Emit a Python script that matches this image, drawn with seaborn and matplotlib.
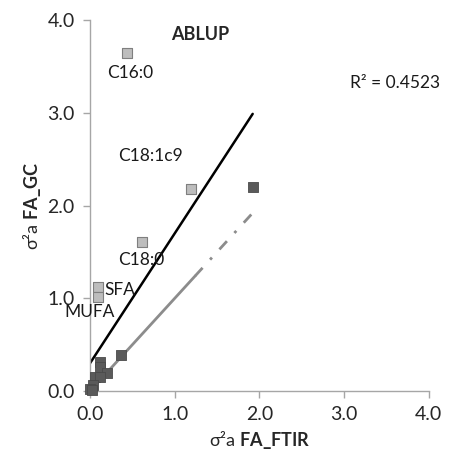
import seaborn as sns
import matplotlib.pyplot as plt
import numpy as np
import pandas as pd

# light squares: GC vs FTIR (labelled traits)
gc_names = ["C16:0", "C18:1c9", "C18:0", "SFA", "MUFA"]
gc_x = [0.44, 1.19, 0.61, 0.10, 0.10]
gc_y = [3.64, 2.18, 1.61, 1.12, 1.01]

# dark squares
ft_x = [1.92, 0.37, 0.12, 0.12, 0.20, 0.06, 0.12, 0.04, 0.00, 0.02]
ft_y = [2.20, 0.39, 0.31, 0.26, 0.19, 0.15, 0.15, 0.07, 0.02, 0.01]

# trend lines (intercept, slope)
black_fit = (0.30, 1.40)
gray_fit = (0.00, 1.00)
fit_range = [0.0, 1.92]
gray_solid_end = 1.24

label_xy = {"C16:0": (0.47, 3.43), "C18:1c9": (0.71, 2.53), "C18:0": (0.60, 1.41),
            "SFA": (0.35, 1.09), "MUFA": (0.00, 0.85)}

sns.set_style("white")
plt.rcParams['font.family'] = ['Lato', 'DejaVu Sans']
plt.rcParams['mathtext.fontset'] = 'custom'
plt.rcParams['mathtext.rm'] = 'Lato'
plt.rcParams['mathtext.bf'] = 'Lato:bold'

fig = plt.figure(figsize=(4.51, 4.65), dpi=100)
ax = fig.add_axes([0.1996, 0.159, 0.7514, 0.798])

xs = np.array(fit_range)
line_df = pd.DataFrame({"x": xs, "y": black_fit[0] + black_fit[1] * xs})
sns.lineplot(data=line_df, x="x", y="y", color="black", lw=1.8, ax=ax)

xs1 = np.array([fit_range[0], gray_solid_end])
xs2 = np.array([gray_solid_end, fit_range[1]])
sns.lineplot(x=xs1, y=gray_fit[0] + gray_fit[1] * xs1, color="#8c8c8c", lw=2, ax=ax)
l2 = ax.plot(xs2, gray_fit[0] + gray_fit[1] * xs2, color="#8c8c8c", lw=2)[0]
l2.set_dashes([4, 4, 1, 4])

sns.scatterplot(x=ft_x, y=ft_y, marker="s", s=60, color="#5a5a5a",
                edgecolor="#4a4a4a", linewidth=0.6, ax=ax, zorder=3)
sns.scatterplot(x=gc_x, y=gc_y, marker="s", s=55, color="#bdbdbd",
                edgecolor="#7f7f7f", linewidth=0.8, ax=ax, zorder=3)

for name in gc_names:
    lx, ly = label_xy[name]
    ax.text(lx, ly, name, fontsize=12.5, ha="center", va="center", color="#1a1a1a")

ax.text(1.3, 3.84, "ABLUP", fontsize=13, fontweight="bold", ha="center", va="center")
ax.text(3.07, 3.32, "R² = 0.4523", fontsize=12.5, ha="left", va="center", color="#1a1a1a")

ax.set_xlim(0, 4)
ax.set_ylim(0, 4)
ticks = [0.0, 1.0, 2.0, 3.0, 4.0]
ax.set_xticks(ticks)
ax.set_yticks(ticks)
ax.set_xticklabels([f"{t:.1f}" for t in ticks])
ax.set_yticklabels([f"{t:.1f}" for t in ticks])
ax.tick_params(axis="both", direction="out", length=5, width=1, color="#a6a6a6",
               labelsize=14, labelcolor="#262626", pad=6)
ax.tick_params(axis="both", which="both", bottom=True, left=True)

for s in ["top", "right"]:
    ax.spines[s].set_visible(False)
for s in ["left", "bottom"]:
    ax.spines[s].set_color("#a6a6a6")
    ax.spines[s].set_linewidth(1)
for c in ax.collections:
    c.set_clip_on(False)

ax.set_xlabel(r"σ²a $\mathbf{FA\_FTIR}$", fontsize=13, labelpad=4)
ax.set_ylabel(r"σ²a $\mathbf{FA\_GC}$", fontsize=13, labelpad=3)

fig.savefig("out.png", dpi=100)
